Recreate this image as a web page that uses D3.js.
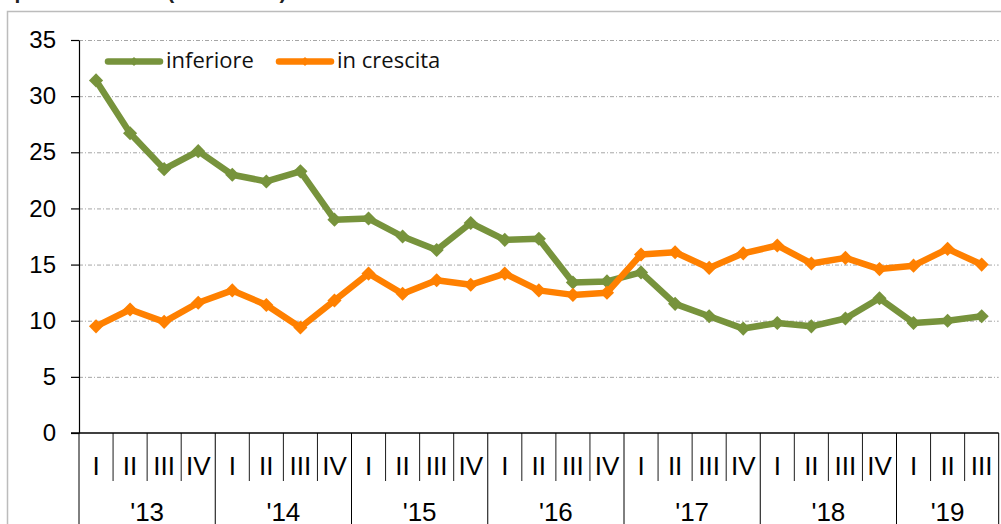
<!DOCTYPE html>
<html>
<head>
<meta charset="utf-8">
<script src="https://cdn.jsdelivr.net/npm/d3@7"></script>
<style>
  body { margin: 0; background: #fff; }
  svg { display: block; }
</style>
</head>
<body>
<div id="chart"></div>
<script>
// data
var quarters = ["I","II","III","IV","I","II","III","IV","I","II","III","IV","I","II","III","IV",
                "I","II","III","IV","I","II","III","IV","I","II","III"];
var years = ["'13","'14","'15","'16","'17","'18","'19"];
var quartersPerYear = [4, 4, 4, 4, 4, 4, 3];
var inferiore = [31.4, 26.7, 23.5, 25.1, 23.0, 22.4, 23.3, 19.0, 19.1, 17.5, 16.3, 18.7, 17.2, 17.3,
                 13.4, 13.5, 14.3, 11.5, 10.4, 9.3, 9.8, 9.5, 10.2, 12.0, 9.8, 10.0, 10.4];
var inCrescita = [9.5, 11.0, 9.9, 11.6, 12.7, 11.4, 9.4, 11.8, 14.2, 12.4, 13.6, 13.2, 14.2, 12.7,
                  12.3, 12.5, 15.9, 16.1, 14.7, 16.0, 16.7, 15.1, 15.6, 14.6, 14.9, 16.4, 15.0];
var yTicks = [0, 5, 10, 15, 20, 25, 30, 35];
var seriesNames = ["inferiore", "in crescita"];
var colors = ["#77933c", "#ff8000"];

(function () {
var width = 1001, height = 524;
var mLeft = 79, mRight = 998.7, mTop = 40, mBottom = 433;

var svg = d3.select("#chart").append("svg")
  .attr("width", width)
  .attr("height", height);

// title, cut by the top edge as in the source picture
svg.append("text")
  .attr("x", -10).attr("y", -1)
  .style("font-family", "Arial, 'Liberation Sans', sans-serif")
  .style("font-size", "21px")
  .style("font-weight", "bold")
  .style("fill", "#222")
  .text("imprese fatturato (valori in %)");

// chart border
svg.append("rect")
  .attr("x", 7.5).attr("y", 11.5)
  .attr("width", 1010).attr("height", 530)
  .style("fill", "none")
  .style("stroke", "#bcbcbc")
  .style("stroke-width", 1.5);

var x = d3.scaleBand()
  .domain(d3.range(quarters.length))
  .range([mLeft, mRight]);

var y = d3.scaleLinear()
  .domain([0, 35])
  .range([mBottom, mTop]);

// grid lines
svg.append("g")
  .attr("transform", "translate(" + mLeft + ",0)")
  .call(d3.axisRight(y).tickValues(yTicks.slice(1)).tickSize(mRight - mLeft).tickFormat(""))
  .call(function (g) { g.select(".domain").remove(); })
  .selectAll("line")
  .style("stroke", "#a6a6a6")
  .style("stroke-dasharray", "4,2,1,2");

// y axis
var yAxis = svg.append("g")
  .attr("transform", "translate(" + mLeft + ",0)")
  .call(d3.axisLeft(y).tickValues(yTicks).tickSize(8).tickPadding(15).tickSizeOuter(0));
yAxis.select(".domain").style("stroke", "#000").style("stroke-width", 1.2);
yAxis.selectAll("line").style("stroke", "#000").style("stroke-width", 1.2);
yAxis.selectAll("text")
  .style("font-family", "Arial, 'Liberation Sans', sans-serif")
  .style("font-size", "24px")
  .style("fill", "#000");

// zero line
svg.append("line")
  .attr("x1", mLeft - 8).attr("x2", mRight)
  .attr("y1", y(0)).attr("y2", y(0))
  .style("stroke", "#000").style("stroke-width", 1.3);

// category separators and labels
var catG = svg.append("g");
var yearStarts = [0];
quartersPerYear.forEach(function (n, i) { yearStarts.push(yearStarts[i] + n); });

d3.range(quarters.length + 1).forEach(function (i) {
  var xi = i < quarters.length ? x(i) : mRight;
  var isYear = yearStarts.indexOf(i) >= 0;
  catG.append("line")
    .attr("x1", xi).attr("x2", xi)
    .attr("y1", y(0)).attr("y2", isYear ? height : 481)
    .style("stroke", "#000")
    .style("stroke-width", isYear ? 1 : 0.9);
});

catG.selectAll(".q")
  .data(quarters)
  .enter().append("text")
  .attr("x", function (d, i) { return x(i) + x.bandwidth() / 2; })
  .attr("y", 475)
  .attr("text-anchor", "middle")
  .style("font-family", "Arial, 'Liberation Sans', sans-serif")
  .style("font-size", "26px")
  .text(function (d) { return d; });

catG.selectAll(".yr")
  .data(years)
  .enter().append("text")
  .attr("x", function (d, i) {
    var a = x(yearStarts[i]);
    var b = yearStarts[i + 1] < quarters.length ? x(yearStarts[i + 1]) : mRight;
    return (a + b) / 2;
  })
  .attr("y", 521)
  .attr("text-anchor", "middle")
  .style("font-family", "Arial, 'Liberation Sans', sans-serif")
  .style("font-size", "26px")
  .text(function (d) { return d; });

// lines
var line = d3.line()
  .x(function (d, i) { return x(i) + x.bandwidth() / 2; })
  .y(function (d) { return y(d); });

var diamond = d3.symbol().type(d3.symbolSquare).size(100);

[inferiore, inCrescita].forEach(function (data, k) {
  svg.append("path")
    .datum(data)
    .attr("d", line)
    .style("fill", "none")
    .style("stroke", colors[k])
    .style("stroke-width", 6.5)
    .style("stroke-linejoin", "round");

  svg.selectAll(".m" + k)
    .data(data)
    .enter().append("path")
    .attr("d", diamond)
    .attr("transform", function (d, i) {
      return "translate(" + (x(i) + x.bandwidth() / 2) + "," + y(d) + ") rotate(45)";
    })
    .style("fill", colors[k]);
});

// legend
var legendX = [106, 277];
seriesNames.forEach(function (name, k) {
  var g = svg.append("g").attr("transform", "translate(" + legendX[k] + ",61.5)");
  g.append("line")
    .attr("x1", 2).attr("x2", 54)
    .style("stroke", colors[k])
    .style("stroke-width", 6.5)
    .style("stroke-linecap", "round");
  g.append("path")
    .attr("d", d3.symbol().type(d3.symbolSquare).size(40))
    .attr("transform", "translate(28,0) rotate(45)")
    .style("fill", colors[k]);
  g.append("text")
    .attr("x", 60).attr("y", 6.5)
    .style("font-family", "'Open Sans', sans-serif")
    .style("font-size", "22px")
    .style("fill", "#111")
    .text(name);
});
})();
</script>
</body>
</html>
